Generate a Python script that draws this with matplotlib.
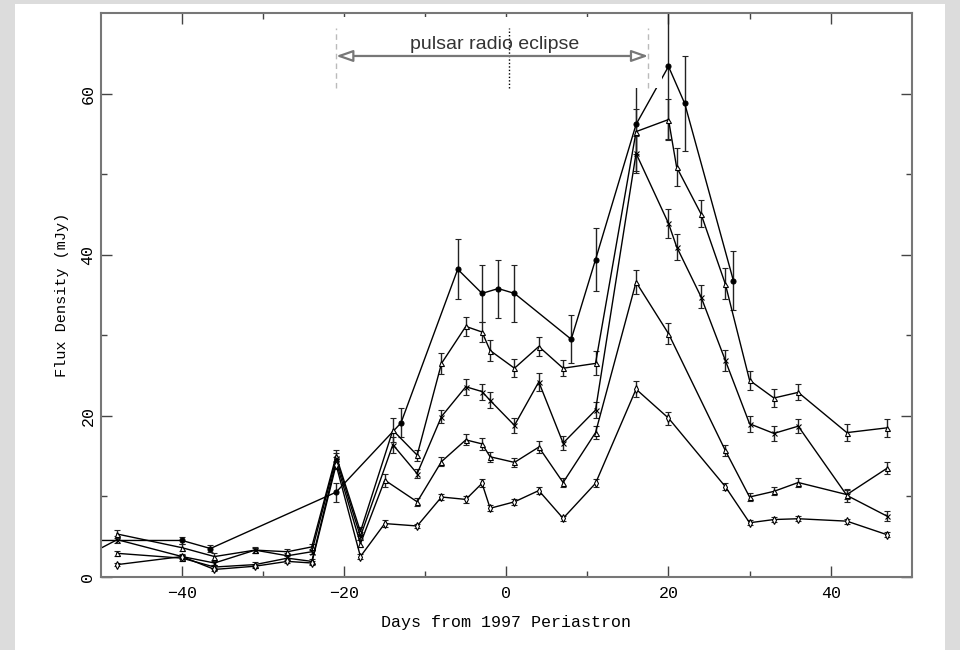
import matplotlib.pyplot as plt
from matplotlib.patches import Rectangle

# days from periastron / flux density (mJy) / error, one set per series
xa = [-52, -40, -36.5, -21, -13, -6, -3, -1, 1, 8, 11, 16, 20, 22, 28]
ya = [4.5, 4.5, 3.5, 10.5, 19.1, 38.2, 35.2, 35.8, 35.2, 29.5, 39.4, 56.2, 63.4, 58.8, 36.8]
ea = [0.4, 0.4, 0.4, 1.2, 1.8, 3.7, 3.5, 3.6, 3.5, 3.0, 3.9, 6.0, 9.0, 5.9, 3.7]

xb = [-48, -40, -36, -31, -27, -24, -21, -18, -14, -11, -8, -5, -3, -2, 1, 4, 7, 11,
      16, 20, 21, 24, 27, 30, 33, 36, 42, 47]
yb = [5.3, 3.6, 2.5, 3.3, 3.1, 3.7, 15.0, 5.6, 18.2, 15.1, 26.5, 31.1, 30.4, 28.1, 25.9, 28.6, 25.9, 26.5,
      55.3, 56.8, 50.9, 45.1, 36.4, 24.4, 22.2, 22.9, 17.9, 18.5]
eb = [0.5, 0.4, 0.4, 0.4, 0.4, 0.4, 0.8, 0.6, 1.5, 0.7, 1.3, 1.2, 1.3, 1.3, 1.1, 1.2, 1.0, 1.5,
      2.8, 2.6, 2.4, 1.7, 1.9, 1.2, 1.1, 1.0, 1.1, 1.1]

xc = [-52, -48, -40, -36, -31, -27, -24, -21, -18, -14, -11, -8, -5, -3, -2, 1, 4, 7, 11,
      16, 20, 21, 24, 27, 30, 33, 36, 42, 47]
yc = [2.5, 4.6, 2.5, 1.7, 3.3, 2.6, 3.1, 14.7, 5.0, 16.4, 12.8, 19.9, 23.6, 23.0, 21.9, 18.8, 24.2, 16.6, 20.7,
      52.6, 43.9, 41.0, 34.8, 26.9, 19.0, 17.8, 18.7, 10.1, 7.5]
ec = [0.4, 0.4, 0.3, 0.3, 0.3, 0.3, 0.3, 0.7, 0.5, 1.0, 0.6, 0.8, 1.0, 1.0, 1.0, 0.9, 1.1, 0.9, 1.0,
      2.2, 1.8, 1.6, 1.4, 1.3, 1.0, 0.9, 0.9, 0.8, 0.6]

xd = [-48, -40, -36, -31, -27, -24, -21, -18, -15, -11, -8, -5, -3, -2, 1, 4, 7, 11,
      16, 20, 27, 30, 33, 36, 42, 47]
yd = [2.9, 2.3, 1.2, 1.5, 2.3, 1.9, 14.3, 4.1, 12.0, 9.3, 14.3, 17.0, 16.5, 14.9, 14.2, 16.1, 11.7, 17.9,
      36.6, 30.2, 15.7, 9.9, 10.6, 11.7, 10.2, 13.5]
ed = [0.3, 0.3, 0.3, 0.3, 0.3, 0.3, 0.6, 0.4, 0.8, 0.5, 0.6, 0.7, 0.7, 0.6, 0.6, 0.7, 0.6, 0.8,
      1.5, 1.3, 0.7, 0.5, 0.5, 0.5, 0.6, 0.8]

xe = [-48, -40, -36, -31, -27, -24, -21, -18, -15, -11, -8, -5, -3, -2, 1, 4, 7, 11,
      16, 20, 27, 30, 33, 36, 42, 47]
ye = [1.5, 2.5, 0.9, 1.3, 1.9, 1.7, 13.9, 2.5, 6.6, 6.3, 9.9, 9.6, 11.6, 8.5, 9.3, 10.7, 7.25, 11.6,
      23.3, 19.7, 11.2, 6.7, 7.1, 7.2, 6.9, 5.2]
ee = [0.2, 0.2, 0.2, 0.2, 0.2, 0.2, 0.5, 0.3, 0.4, 0.3, 0.4, 0.4, 0.5, 0.4, 0.4, 0.4, 0.3, 0.5,
      1.0, 0.8, 0.4, 0.3, 0.3, 0.3, 0.3, 0.3]

eclipse_start, eclipse_end = -21, 17.5

mono = 'Liberation Mono'

fig = plt.figure(figsize=(9.6, 6.5), dpi=100, facecolor='#dcdcdc')
fig.patches.append(Rectangle((15 / 960, 0), 930 / 960, 646 / 650, transform=fig.transFigure,
                             facecolor='white', edgecolor='none', zorder=-1))
ax = fig.add_axes([0.1052, 0.1128, 0.8445, 0.8667])
ax.set_facecolor('white')

series = [(xa, ya, ea, 'o', 'black'), (xb, yb, eb, '^', 'white'), (xc, yc, ec, 'x', 'black'),
          (xd, yd, ed, '^', 'white'), (xe, ye, ee, 'd', 'white')]
for x, y, e, m, mfc in series:
    ax.errorbar(x, y, yerr=e, color='black', lw=1.0, elinewidth=1.0, capsize=2.2, capthick=1.0,
                marker=m, ms=3.6, mfc=mfc, mec='black', mew=0.8, ecolor='#222222')

# white box under the eclipse label
ax.add_patch(Rectangle((-22, 60.7), 41.2, 8.8, facecolor='white', edgecolor='none', zorder=5))
ax.vlines([eclipse_start, eclipse_end], 60.7, 68.2, colors='#bbbbbb', linestyles=(0, (4, 3)), lw=1.0, zorder=6)
ax.vlines(0.3, 60.7, 68.2, colors='black', linestyles=(0, (1, 1.5)), lw=1.0, zorder=6)
ax.annotate('', xy=(eclipse_start, 64.7), xytext=(eclipse_end, 64.7),
            arrowprops=dict(arrowstyle='<|-|>,head_length=1.0,head_width=0.35', color='#777777',
                            fc='white', lw=1.6, shrinkA=0, shrinkB=0), zorder=7)
ax.text(-1.4, 65.1, 'pulsar radio eclipse', ha='center', va='bottom', fontsize=14,
        family='Liberation Sans', color='#333333', zorder=8)

ax.set_xlim(-50, 50)
ax.set_ylim(0, 70)
ax.set_xticks([-40, -20, 0, 20, 40])
ax.set_xticklabels(['\u221240', '\u221220', '0', '20', '40'])
ax.set_xticks([-30, -10, 10, 30], minor=True)
ax.set_yticks([0, 20, 40, 60])
ax.set_yticks([10, 30, 50], minor=True)
ax.tick_params(which='both', direction='in', top=True, right=True, color='#444444', width=1.0)
ax.tick_params(which='major', length=8, labelsize=12, pad=7)
ax.tick_params(which='minor', length=4)
ax.tick_params(axis='y', labelrotation=90, pad=4)
for lab in ax.get_xticklabels() + ax.get_yticklabels():
    lab.set_family(mono)
for lab in ax.get_yticklabels():
    lab.set_va('center')
for sp in ax.spines.values():
    sp.set_color('#777777')
    sp.set_linewidth(1.5)

ax.set_xlabel('Days from 1997 Periastron', family=mono, fontsize=12, labelpad=10)
ax.set_ylabel('Flux Density (mJy)', family=mono, fontsize=11, labelpad=8)

plt.savefig('out.png', dpi=100, facecolor=fig.get_facecolor())
